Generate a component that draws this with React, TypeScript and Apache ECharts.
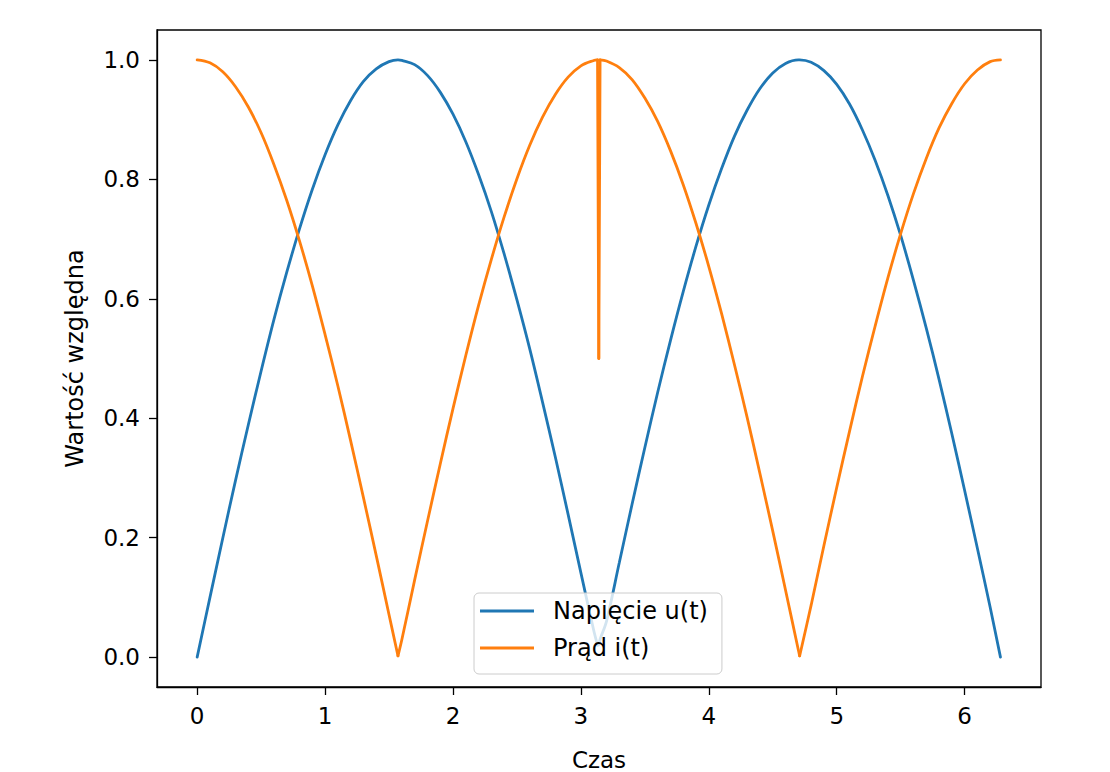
import React, { useEffect, useRef } from "react";
import * as echarts from "echarts";

// time samples (s)
const tValues = [
  0.0, 0.1, 0.2, 0.3, 0.4, 0.5, 0.6, 0.7, 0.8, 0.9,
  1.0, 1.1, 1.2, 1.3, 1.4, 1.5, 1.57, 1.6, 1.7, 1.8, 1.9,
  2.0, 2.1, 2.2, 2.3, 2.4, 2.5, 2.6, 2.7, 2.8, 2.9,
  3.0, 3.1, 3.13, 3.14, 3.15, 3.2, 3.3, 3.4, 3.5, 3.6, 3.7, 3.8, 3.9,
  4.0, 4.1, 4.2, 4.3, 4.4, 4.5, 4.6, 4.7, 4.71, 4.8, 4.9,
  5.0, 5.1, 5.2, 5.3, 5.4, 5.5, 5.6, 5.7, 5.8, 5.9,
  6.0, 6.1, 6.2, 6.28,
];

// Napięcie u(t)
const napiecie = [
  0.0, 0.1, 0.199, 0.296, 0.389, 0.479, 0.565, 0.644, 0.717, 0.783,
  0.841, 0.891, 0.932, 0.964, 0.985, 0.997, 1.0, 0.999, 0.992, 0.974, 0.946,
  0.909, 0.863, 0.808, 0.746, 0.675, 0.598, 0.516, 0.427, 0.335, 0.239,
  0.141, 0.045, 0.02, 0.021, 0.03, 0.06, 0.158, 0.256, 0.351, 0.443, 0.53, 0.612, 0.688,
  0.757, 0.818, 0.872, 0.916, 0.952, 0.978, 0.994, 1.0, 1.0, 0.996, 0.982,
  0.959, 0.926, 0.883, 0.832, 0.773, 0.706, 0.631, 0.551, 0.465, 0.374,
  0.279, 0.182, 0.083, 0.0,
];

// Prąd i(t)
const prad = [
  1.0, 0.995, 0.98, 0.955, 0.921, 0.878, 0.825, 0.765, 0.697, 0.622,
  0.54, 0.454, 0.362, 0.267, 0.17, 0.071, 0.002, 0.029, 0.129, 0.227, 0.323,
  0.416, 0.505, 0.589, 0.666, 0.737, 0.801, 0.857, 0.904, 0.942, 0.971,
  0.99, 0.999, 1.0, 0.5, 1.0, 0.998, 0.987, 0.967, 0.936, 0.897, 0.848, 0.791, 0.726,
  0.654, 0.575, 0.49, 0.401, 0.307, 0.211, 0.112, 0.012, 0.002, 0.087, 0.187,
  0.284, 0.378, 0.469, 0.554, 0.635, 0.709, 0.776, 0.835, 0.886, 0.927,
  0.96, 0.983, 0.997, 1.0,
];

const xTicks = [0, 1, 2, 3, 4, 5, 6];
const yTicks = [0, 0.2, 0.4, 0.6, 0.8, 1.0];

const seriesNames = ["Napięcie u(t)", "Prąd i(t)"];
const seriesColors = ["#1f77b4", "#ff7f0e"];
const xName = "Czas";
const yName = "Wartość względna";

const FONT = "DejaVu Sans";

// split a curve into runs at its sharp local minima and around abrupt jumps,
// so that each run can be smoothed without rounding off cusps or the spike
function splitCurve(ts: number[], ys: number[]): number[][][] {
  const jump = (a: number, b: number) => Math.abs(ys[a] - ys[b]) > 0.3;
  const runs: number[][][] = [];
  let cur: number[][] = [[ts[0], ys[0]]];
  for (let i = 1; i < ts.length; i++) {
    cur.push([ts[i], ys[i]]);
    if (i < ts.length - 1) {
      const isMin = ys[i] < ys[i - 1] && ys[i] < ys[i + 1];
      if (isMin || jump(i, i + 1) || jump(i, i - 1)) {
        runs.push(cur);
        cur = [[ts[i], ys[i]]];
      }
    }
  }
  runs.push(cur);
  return runs;
}

export default function App() {
  const ref = useRef<HTMLDivElement>(null);

  useEffect(() => {
    document.body.style.margin = "0";
    if (!ref.current) return;
    const chart = echarts.init(ref.current, null, { renderer: "svg" });
    const axisCommon = {
      axisLine: { show: true, onZero: false, lineStyle: { color: "#000", width: 1.3 } },
      axisTick: { show: true, inside: false, length: 8, lineStyle: { color: "#000", width: 1.3 } },
      splitLine: { show: false },
    };
    const series: any[] = [];
    [napiecie, prad].forEach((vals, k) => {
      splitCurve(tValues, vals).forEach((run) => {
        series.push({
          name: seriesNames[k],
          type: "line",
          symbol: "none",
          showSymbol: false,
          smooth: run.length > 2 ? 0.35 : false,
          color: seriesColors[k],
          lineStyle: { color: seriesColors[k], width: 2.8, cap: "round" },
          data: run,
          z: 2 + k,
        });
      });
    });
    chart.setOption({
      animation: false,
      backgroundColor: "#fff",
      textStyle: { fontFamily: FONT },
      grid: {
        left: 157,
        right: 69,
        top: 30,
        bottom: 85,
        outerBoundsMode: "none",
        containLabel: false,
        show: true,
        borderColor: "#000",
        borderWidth: 1.3,
        backgroundColor: "transparent",
      },
      legend: {
        show: true,
        orient: "vertical",
        left: 474,
        top: 593,
        align: "left",
        icon: "rect",
        itemWidth: 54,
        itemHeight: 3,
        itemGap: 5,
        padding: [2, 14, 10, 6],
        backgroundColor: "rgba(255,255,255,0.8)",
        borderColor: "#cccccc",
        borderWidth: 1,
        borderRadius: 5,
        data: seriesNames,
        textStyle: {
          fontFamily: FONT,
          fontSize: 24,
          color: "#000",
          lineHeight: 26,
          padding: [6, 0, 0, 14],
        },
      },
      xAxis: {
        type: "value",
        min: -0.314,
        max: 6.597,
        name: xName,
        nameLocation: "middle",
        nameGap: 61,
        nameTextStyle: { fontFamily: FONT, fontSize: 23, color: "#000" },
        ...axisCommon,
        axisTick: { ...axisCommon.axisTick, customValues: xTicks },
        axisLabel: {
          customValues: xTicks,
          fontFamily: FONT,
          fontSize: 23,
          color: "#000",
          margin: 17,
          formatter: (v: number) => String(v),
        },
      },
      yAxis: {
        type: "value",
        min: -0.05,
        max: 1.05,
        name: yName,
        nameLocation: "middle",
        nameGap: 70,
        nameTextStyle: { fontFamily: FONT, fontSize: 24, color: "#000" },
        ...axisCommon,
        axisTick: { ...axisCommon.axisTick, customValues: yTicks },
        axisLabel: {
          customValues: yTicks,
          fontFamily: FONT,
          fontSize: 23,
          color: "#000",
          margin: 17,
          formatter: (v: number) => v.toFixed(1),
        },
      },
      series,
    });
    return () => chart.dispose();
  }, []);

  return <div ref={ref} style={{ width: 1110, height: 772 }} />;
}
